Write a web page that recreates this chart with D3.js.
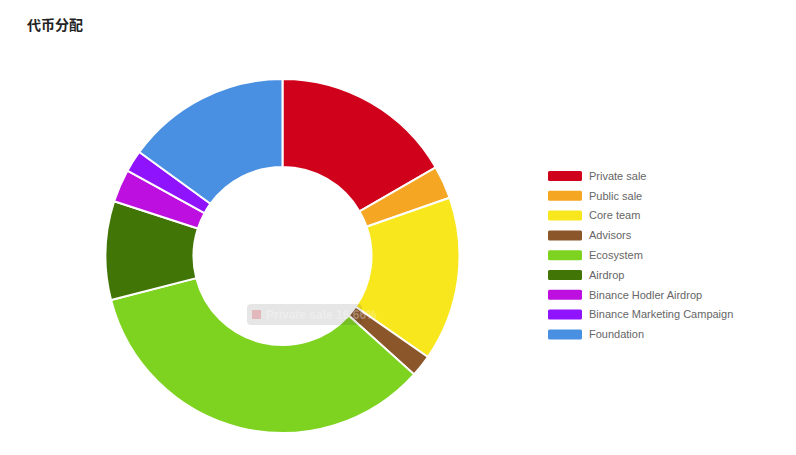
<!DOCTYPE html>
<html>
<head>
<meta charset="utf-8">
<script src="https://cdn.jsdelivr.net/npm/d3@7"></script>
<style>
  body { margin: 0; background: #fff; }
  svg { display: block; }
</style>
</head>
<body>
<svg id="chart" width="796" height="455"></svg>
<script>
// token allocation (percent)
const categories = ["Private sale", "Public sale", "Core team", "Advisors", "Ecosystem",
  "Airdrop", "Binance Hodler Airdrop", "Binance Marketing Campaign", "Foundation"];
const shares = [16.66, 3, 15, 2, 34.34, 9, 3, 2, 15];
const colors = ["#d0021b", "#f5a623", "#f8e71c", "#8b572a", "#7ed321",
  "#417505", "#bd10e0", "#9013fe", "#4a90e2"];

const data = categories.map((c, i) => ({name: c, value: shares[i]}));

let svg = d3.select('#chart'),
  cx = 282.5, cy = 256,
  outerR = 177, innerR = 89;

let color = d3.scaleOrdinal().domain(categories).range(colors);

// title
svg.append('text')
  .attr('x', 27)
  .attr('y', 30)
  .style('font-family', '"Noto Sans CJK SC", sans-serif')
  .attr('font-size', 14)
  .attr('font-weight', 'bold')
  .attr('fill', '#222')
  .text('代币分配');

// donut
let pie = d3.pie().sort(null).value(d => d.value);
let arc = d3.arc().innerRadius(innerR).outerRadius(outerR);

let donut = svg.append('g')
  .attr('transform', 'translate(' + cx + ',' + cy + ')');

donut.selectAll('path')
  .data(pie(data))
  .enter()
  .append('path')
    .attr('d', arc)
    .attr('fill', d => color(d.data.name))
    .attr('stroke', '#fff')
    .attr('stroke-width', 2)
    .attr('stroke-linejoin', 'round');

// legend
let legend = svg.append('g')
  .attr('transform', 'translate(548,171)');

let rows = legend.selectAll('g')
  .data(categories)
  .enter()
  .append('g')
    .attr('transform', (d, i) => 'translate(0,' + (i * 19.8) + ')');

rows.append('rect')
  .attr('width', 34)
  .attr('height', 10)
  .attr('rx', 1.5)
  .attr('fill', d => color(d));

rows.append('text')
  .attr('x', 41)
  .attr('y', 5)
  .attr('dy', '0.35em')
  .style('font-family', '"Liberation Sans", Arial, sans-serif')
  .attr('font-size', 11)
  .attr('fill', '#666')
  .text(d => d);

// fading tooltip left over in the picture
let tip = svg.append('g')
  .attr('transform', 'translate(247,304)');

tip.append('rect')
  .attr('width', 115)
  .attr('height', 21)
  .attr('rx', 4)
  .attr('fill', '#323232')
  .attr('opacity', 0.12);

tip.append('rect')
  .attr('x', 5)
  .attr('y', 6)
  .attr('width', 9)
  .attr('height', 9)
  .attr('fill', colors[0])
  .attr('opacity', 0.2);

tip.append('text')
  .attr('x', 19)
  .attr('y', 10.5)
  .attr('dy', '0.35em')
  .style('font-family', '"Liberation Sans", Arial, sans-serif')
  .attr('font-size', 12)
  .attr('font-weight', 'bold')
  .attr('fill', '#fff')
  .attr('opacity', 0.3)
  .text(categories[0] + ' ' + shares[0] + '%');
</script>
</body>
</html>
